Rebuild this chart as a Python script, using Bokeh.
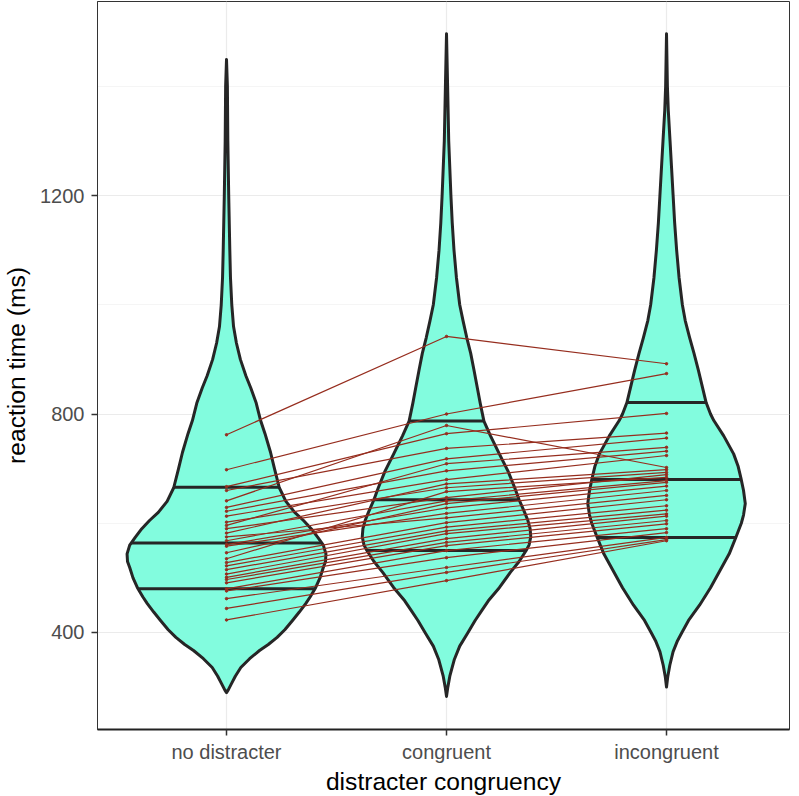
import numpy as np
from bokeh.plotting import figure
from bokeh.models import Range1d, FixedTicker
from bokeh.embed import file_html
from bokeh.resources import INLINE

# categories on the x axis
conditions = ["no distracter", "congruent", "incongruent"]

# violin outlines: reaction time (ms), top to bottom,
# and the half width of the violin at that time (in category units)
nd_rt = [1449, 1400, 1300, 1200, 1100, 1050, 1000, 960, 930, 900, 870, 848, 820, 788, 764, 730, 700,
         665, 640, 620, 605, 590, 574, 560, 544, 530, 519, 500, 482, 465, 453, 437, 422, 405, 391,
         378, 367, 352, 336, 320, 306, 295, 290]
nd_half = [0, 0.004, 0.006, 0.010, 0.015, 0.018, 0.024, 0.032, 0.045, 0.063, 0.088, 0.11, 0.135, 0.155,
           0.175, 0.2, 0.218, 0.24, 0.27, 0.31, 0.35, 0.385, 0.415, 0.44, 0.452, 0.45, 0.44, 0.425, 0.405,
           0.38, 0.36, 0.33, 0.30, 0.265, 0.23, 0.19, 0.15, 0.105, 0.065, 0.04, 0.022, 0.008, 0]

cg_rt = [1496, 1400, 1300, 1200, 1150, 1100, 1050, 1000, 971, 940, 911, 880, 848, 820, 787, 760, 727,
         695, 665, 643, 620, 605, 590, 575, 560, 550, 530, 510, 482, 458, 440, 422, 398, 375, 350,
         320, 300, 283]
cg_half = [0, 0.005, 0.01, 0.02, 0.026, 0.034, 0.045, 0.06, 0.075, 0.092, 0.11, 0.125, 0.14, 0.153,
           0.17, 0.2, 0.24, 0.28, 0.31, 0.33, 0.355, 0.37, 0.38, 0.383, 0.375, 0.362, 0.33, 0.29, 0.24,
           0.19, 0.16, 0.13, 0.095, 0.06, 0.035, 0.015, 0.006, 0]

ic_rt = [1496, 1400, 1356, 1300, 1250, 1200, 1150, 1100, 1050, 1000, 971, 940, 911, 880, 848, 821,
         800, 788, 760, 727, 705, 683, 660, 636, 615, 600, 574, 544, 515, 482, 450, 422, 400, 385,
         365, 340, 320, 300]
ic_half = [0, 0.004, 0.008, 0.016, 0.023, 0.03, 0.037, 0.046, 0.057, 0.072, 0.085, 0.105, 0.125, 0.145,
           0.164, 0.18, 0.2, 0.215, 0.26, 0.305, 0.325, 0.338, 0.35, 0.358, 0.35, 0.34, 0.315, 0.285,
           0.245, 0.2, 0.15, 0.1, 0.07, 0.05, 0.03, 0.015, 0.006, 0]

# 25%, 50%, 75% quantiles of each condition
nd_q = [480, 564, 666]
cg_q = [550, 643, 787]
ic_q = [574, 680, 821]

# per subject mean reaction times
subj_nd = [762, 698, 641, 667, 660, 629, 596, 622, 613, 582, 602, 590, 535, 568, 546,
           561, 558, 575, 528, 522, 515, 507, 501, 497, 491, 480, 476, 462, 444, 423]
subj_cg = [942, 800, 779, 764, 737, 718, 709, 696, 680, 672, 665, 647, 658, 641, 636,
           628, 618, 610, 601, 593, 586, 581, 572, 565, 559, 550, 537, 519, 510, 495]
subj_ic = [892, 874, 702, 801, 765, 756, 739, 732, 724, 698, 693, 689, 684, 678, 675,
           668, 660, 651, 643, 632, 624, 617, 613, 605, 599, 590, 583, 574, 570, 568]

font = "Liberation Sans"
edge = "#262626"

p = figure(frame_width=692, frame_height=728,
           x_range=Range1d(0.4136, 3.559), y_range=Range1d(222.4, 1555.2),
           output_backend="svg", toolbar_location=None,
           min_border_left=89, min_border_right=2, min_border_top=1, min_border_bottom=10)

p.outline_line_color = "#333333"
p.outline_line_width = 1
p.background_fill_color = "white"
p.border_fill_color = "white"

# violins with quantile lines
for pos, (rt, half, q) in enumerate([(nd_rt, nd_half, nd_q), (cg_rt, cg_half, cg_q), (ic_rt, ic_half, ic_q)], start=1):
    rt = np.array(rt, dtype=float)
    half = np.array(half)
    xs = np.concatenate([pos + half, (pos - half)[::-1]])
    ys = np.concatenate([rt, rt[::-1]])
    p.patch(xs, ys, fill_color="#82FCDE", line_color=edge, line_width=3, line_join="round")
    qh = np.interp(q, rt[::-1], half[::-1])
    p.segment(x0=pos - qh, y0=q, x1=pos + qh, y1=q, line_color=edge, line_width=3)

# subject lines
xs_sub = [[1, 2, 3] for _ in subj_nd]
ys_sub = [[a, b, c] for a, b, c in zip(subj_nd, subj_cg, subj_ic)]
p.multi_line(xs_sub, ys_sub, line_color="#962D1E", line_width=1.2)
p.scatter(sum(xs_sub, []), sum(ys_sub, []), size=2.5, color="#962D1E")

# axes
p.xaxis.ticker = FixedTicker(ticks=[1, 2, 3])
p.xaxis.major_label_overrides = {i + 1: c for i, c in enumerate(conditions)}
p.yaxis.ticker = FixedTicker(ticks=[400, 800, 1200], minor_ticks=[200, 600, 1000, 1400])
p.xaxis.axis_label = "distracter congruency"
p.yaxis.axis_label = "reaction time (ms)"

for ax in (p.xaxis, p.yaxis):
    ax.axis_label_text_font = font
    ax.axis_label_text_font_style = "normal"
    ax.axis_label_text_font_size = "24.6px"
    ax.axis_label_text_line_height = 1.0
    ax.axis_label_text_color = "black"
    ax.major_label_text_font = font
    ax.major_label_text_font_size = "20px"
    ax.major_label_text_line_height = 1.0
    ax.major_label_text_color = "#4D4D4D"
    ax.major_tick_out = 6
    ax.major_tick_in = 0
    ax.minor_tick_out = 0
    ax.minor_tick_in = 0
    ax.major_tick_line_color = "#333333"
    ax.major_tick_line_width = 1.5

p.yaxis.major_label_standoff = 7
p.xaxis.major_label_standoff = 5
p.yaxis.axis_line_color = "#333333"
p.yaxis.axis_line_width = 1
p.xaxis.axis_line_color = "#222222"
p.xaxis.axis_line_width = 2
p.yaxis.axis_label_standoff = 7
p.xaxis.axis_label_standoff = 2

p.xgrid.grid_line_color = "#EBEBEB"
p.xgrid.grid_line_width = 1.2
p.ygrid.grid_line_color = "#EBEBEB"
p.ygrid.grid_line_width = 1.2
p.ygrid.minor_grid_line_color = "#F2F2F2"
p.ygrid.minor_grid_line_width = 0.8

open("out.html", "w").write(file_html(p, INLINE))
